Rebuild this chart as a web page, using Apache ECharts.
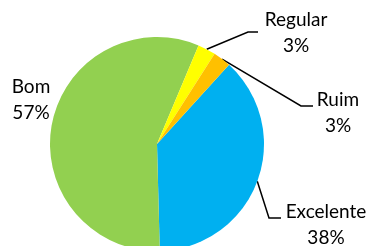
<!DOCTYPE html>
<html>
<head>
<meta charset="utf-8">
<script src="https://cdn.jsdelivr.net/npm/echarts@6/dist/echarts.min.js"></script>
<style>
html, body { margin: 0; padding: 0; background: #fff; }
#main { width: 369px; height: 246px; }
</style>
</head>
<body>
<div id="main"></div>
<script>
// order matters: drawn clockwise starting from the Ruim/Excelente edge
var categories = ['Excelente', 'Bom', 'Regular', 'Ruim'];
var counts = [14, 21, 1, 1];
var colors = ['#00B0F0', '#92D050', '#FFFF00', '#FFC000'];

var total = counts.reduce(function (a, b) { return a + b; }, 0);

// where each label sits, and the bend of its leader line
var labelPos = {
    'Excelente': { x: 326, y: 225, bend: [[269, 218], [281, 218]] },
    'Bom': { x: 31, y: 100, bend: null },
    'Regular': { x: 296, y: 33, bend: [[248, 32], [258, 32]] },
    'Ruim': { x: 338, y: 113, bend: [[301, 106], [313, 106]] }
};

var data = [];
for (var i = 0; i < categories.length; i++) {
    var item = { name: categories[i], value: counts[i], itemStyle: { color: colors[i] } };
    if (!labelPos[categories[i]].bend) {
        item.labelLine = { show: false };
    }
    data.push(item);
}

var myChart = echarts.init(document.getElementById('main'));

var option = {
    animation: false,
    series: [
        {
            type: 'pie',
            center: [157, 144],
            radius: 107,
            startAngle: 47.7,
            clockwise: true,
            avoidLabelOverlap: false,
            itemStyle: { borderWidth: 0 },
            label: {
                show: true,
                position: 'outside',
                color: '#000',
                fontFamily: 'Lato',
                fontSize: 19,
                lineHeight: 26,
                align: 'center',
                formatter: function (p) {
                    return p.name + '\n' + Math.round(p.value / total * 100) + '%';
                }
            },
            labelLine: {
                show: true,
                lineStyle: { color: '#000', width: 1.5 }
            },
            labelLayout: function (params) {
                var pos = labelPos[categories[params.dataIndex]];
                var res = { x: pos.x, y: pos.y, align: 'center', verticalAlign: 'middle' };
                if (pos.bend && params.labelLinePoints) {
                    res.labelLinePoints = [params.labelLinePoints[0], pos.bend[0], pos.bend[1]];
                }
                return res;
            },
            data: data
        }
    ]
};

myChart.setOption(option);
</script>
</body>
</html>
